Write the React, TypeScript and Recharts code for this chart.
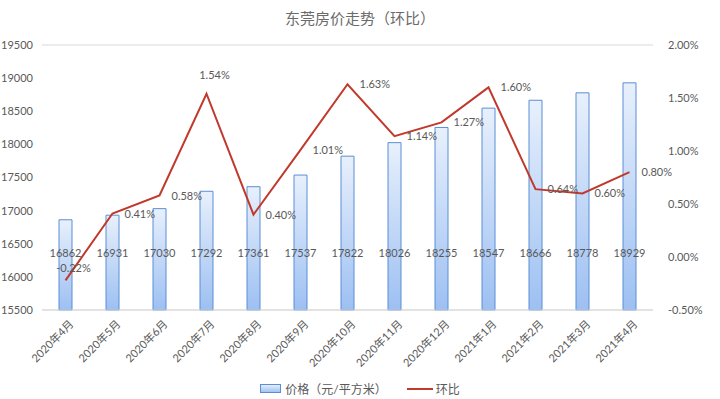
import React from "react";
import {
  ComposedChart,
  Bar,
  Line,
  XAxis,
  YAxis,
  CartesianGrid,
  Legend,
  LabelList,
} from "recharts";

const months = [
  "2020年4月", "2020年5月", "2020年6月", "2020年7月", "2020年8月", "2020年9月",
  "2020年10月", "2020年11月", "2020年12月", "2021年1月", "2021年2月", "2021年3月", "2021年4月",
];
const prices = [16862, 16931, 17030, 17292, 17361, 17537, 17822, 18026, 18255, 18547, 18666, 18778, 18929];
const momChange = [-0.22, 0.41, 0.58, 1.54, 0.4, 1.01, 1.63, 1.14, 1.27, 1.6, 0.64, 0.6, 0.8];
const priceTicks = [15500, 16000, 16500, 17000, 17500, 18000, 18500, 19000, 19500];
const pctTicks = [-0.5, 0, 0.5, 1, 1.5, 2];

const data = months.map((m, i) => ({ month: m, price: prices[i], mom: momChange[i] }));

const FONT = "Lato, 'Noto Sans CJK SC', sans-serif";
const GREY = "#595959";

const MonthTick = (props: any) => {
  const { x, y, payload } = props;
  return (
    <g transform={`translate(${x + 6},${y + 4})`}>
      <text transform="rotate(-45)" textAnchor="end" fontSize={11} fill={GREY} fontFamily={FONT} dy={4}>
        {payload.value}
      </text>
    </g>
  );
};

const PriceLabel = (props: any) => {
  const { x, y, width, height, value } = props;
  return (
    <text x={x + width / 2} y={y + height - 53} textAnchor="middle" fontSize={11} fill={GREY} fontFamily={FONT}>
      {value}
    </text>
  );
};

// first point sits under the bar label, the July peak gets its label on top
const PctLabel = (props: any) => {
  const { x, y, value, index } = props;
  const above = index === 0 || index === 3;
  return (
    <text
      x={above ? x + 8 : x + 12}
      y={index === 0 ? y - 8 : index === 3 ? y - 15 : y + 4}
      textAnchor={above ? "middle" : "start"}
      fontSize={11}
      fill={GREY}
      fontFamily={FONT}
    >
      {value.toFixed(2)}%
    </text>
  );
};

const LegendBox = () => (
  <div style={{ display: "flex", justifyContent: "center", alignItems: "center", fontSize: 12, color: GREY, fontFamily: FONT }}>
    <svg width={22} height={10} style={{ marginRight: 3 }}>
      <defs>
        <linearGradient id="lg" x1="0" y1="0" x2="0" y2="1">
          <stop offset="0%" stopColor="#e8f0fc" />
          <stop offset="100%" stopColor="#9dc0f2" />
        </linearGradient>
      </defs>
      <rect x={0.5} y={0.5} width={20} height={8} fill="url(#lg)" stroke="#5b8ed6" />
    </svg>
    <span>价格（元/平方米）</span>
    <svg width={26} height={10} style={{ marginLeft: 20, marginRight: 3 }}>
      <line x1={0} y1={5} x2={26} y2={5} stroke="#c0392b" strokeWidth={2} />
    </svg>
    <span>环比</span>
  </div>
);

export default function App() {
  return (
    <div style={{ position: "absolute", left: 0, top: 0, width: 720, height: 399, background: "#fff" }}>
      <div
        style={{
          position: "absolute",
          top: 7,
          width: 720,
          textAlign: "center",
          fontSize: 15,
          color: "#6b6b6b",
          fontFamily: "'Noto Sans CJK SC', sans-serif",
        }}
      >
        东莞房价走势（环比）
      </div>
      <ComposedChart width={720} height={399} data={data} margin={{ top: 45, right: 0, bottom: 4, left: 0 }}>
        <defs>
          <linearGradient id="barGrad" x1="0" y1="0" x2="0" y2="1">
            <stop offset="0%" stopColor="#e8f0fc" />
            <stop offset="100%" stopColor="#9dc0f2" />
          </linearGradient>
        </defs>
        <CartesianGrid vertical={false} stroke="#d9d9d9" />
        <XAxis
          dataKey="month"
          tick={<MonthTick />}
          interval={0}
          height={68}
          axisLine={{ stroke: "#d9d9d9" }}
          tickLine={false}
        />
        <YAxis
          yAxisId="left"
          domain={[15500, 19500]}
          ticks={priceTicks}
          width={42}
          axisLine={false}
          tickLine={false}
          tickSize={0}
          tickMargin={9}
          tick={{ fontSize: 11, fill: GREY, fontFamily: FONT }}
        />
        <YAxis
          yAxisId="right"
          orientation="right"
          domain={[-0.5, 2]}
          ticks={pctTicks}
          width={67}
          axisLine={false}
          tickLine={false}
          tickSize={0}
          tickMargin={15}
          tickFormatter={(v: number) => `${v.toFixed(2)}%`}
          tick={{ fontSize: 11, fill: GREY, fontFamily: FONT }}
        />
        <Legend verticalAlign="bottom" content={<LegendBox />} wrapperStyle={{ bottom: 2 }} />
        <Bar
          yAxisId="left"
          dataKey="price"
          name="价格（元/平方米）"
          barSize={13}
          fill="url(#barGrad)"
          stroke="#5b8ed6"
          strokeWidth={1}
          isAnimationActive={false}
        >
          <LabelList dataKey="price" content={<PriceLabel />} />
        </Bar>
        <Line
          yAxisId="right"
          dataKey="mom"
          name="环比"
          stroke="#c0392b"
          strokeWidth={2}
          dot={false}
          isAnimationActive={false}
        >
          <LabelList dataKey="mom" content={<PctLabel />} />
        </Line>
      </ComposedChart>
    </div>
  );
}
